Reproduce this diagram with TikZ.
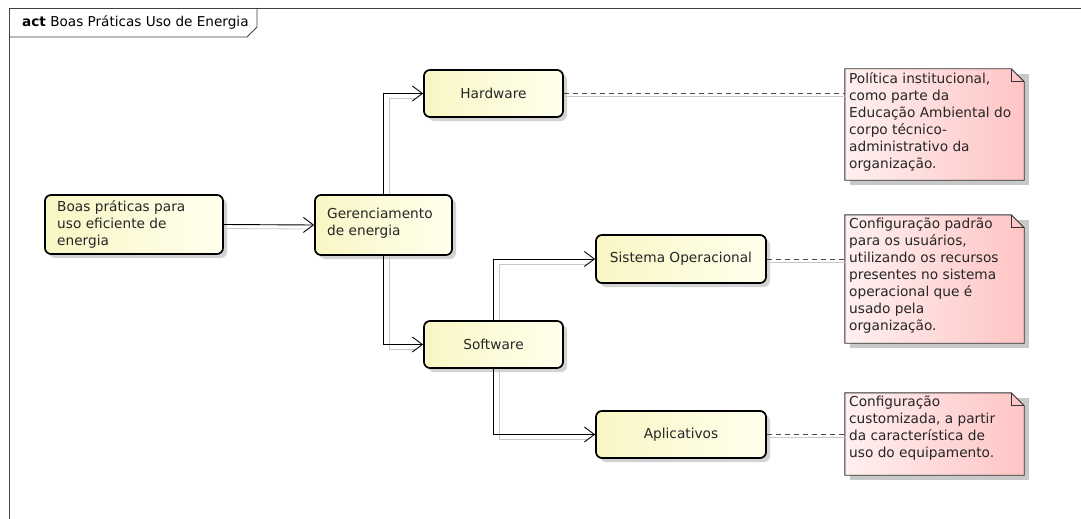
\documentclass[tikz,border=0pt]{standalone}
\usepackage{fontspec}
\setmainfont{DejaVu Sans}
\usetikzlibrary{arrows.meta,shadows,calc}
\definecolor{boxL}{RGB}{249,246,196}
\definecolor{boxR}{RGB}{255,255,238}
\definecolor{noteL}{RGB}{255,240,240}
\definecolor{noteR}{RGB}{255,196,196}
\definecolor{shd}{RGB}{200,200,200}
\tikzset{
  act/.style={rectangle, rounded corners=6pt, draw=black, line width=1.7pt,
    left color=boxL, right color=boxR, font=\fontsize{13.7}{17}\selectfont,
    text=black!85,
    drop shadow={shadow xshift=4pt, shadow yshift=-4pt, fill=shd, opacity=0.8},
    inner sep=0pt},
  notebox/.style={rectangle, inner sep=0pt},
  notetext/.style={anchor=north west, align=left, inner sep=0pt,
    font=\fontsize{13.7}{17}\selectfont, text=black!85},
  flow/.style={draw=black, line width=0.9pt, -{Straight Barb[length=10pt,width=15pt,line width=0.9pt]}},
  flowshadow/.style={draw=shd, line width=0.8pt},
  link/.style={draw=black!70, line width=0.7pt, dash pattern=on 5pt off 4pt},
  frameline/.style={draw=black!75, line width=0.8pt}
}
\begin{document}
\begin{tikzpicture}[x=1pt,y=-1pt]
\useasboundingbox (0,0) rectangle (1081,519);
% frame
\draw[frameline] (1081,8) -- (9,8) -- (9,519);
\draw[frameline] (9,37) -- (247,37) -- (257,27) -- (257,8);
\node[anchor=base west, inner sep=0pt, font=\fontsize{13.6}{15}\selectfont] (title) at (22,27)
  {\textbf{act} Boas Práticas Uso de Energia};

% nodes
\node[act, minimum width=178pt, minimum height=59pt] (boas) at (134,224.5) {};
\node[anchor=north west, align=left, inner sep=0pt, text=black!85, font=\fontsize{13.7}{17}\selectfont] (boast) at (57,200)
  {Boas práticas para\\uso eficiente de\\energia};
\node[act, minimum width=137pt, minimum height=60pt] (ger) at (383.5,225) {};
\node[anchor=north west, align=left, inner sep=0pt, text=black!85, font=\fontsize{13.7}{17}\selectfont] (gert) at (327,208)
  {Gerenciamento\\de energia};
\node[act, minimum width=139pt, minimum height=47pt] (hw) at (493.5,93.5) {Hardware};
\node[act, minimum width=139pt, minimum height=47pt] (sw) at (493.5,344.5) {Software};
\node[act, minimum width=170pt, minimum height=48pt] (so) at (681,259) {Sistema Operacional};
\node[act, minimum width=170pt, minimum height=47pt] (ap) at (681,434.5) {Aplicativos};

% notes
\node[notebox, minimum width=179pt, minimum height=111pt] (n1) at (934.5,124.5) {};
\node[notebox, minimum width=179pt, minimum height=128pt] (n2) at (934.5,279) {};
\node[notebox, minimum width=179pt, minimum height=82pt] (n3) at (934.5,434) {};
\foreach \n in {n1,n2,n3}{
  \fill[shd] ($(\n.north west)+(5,5)$) rectangle ($(\n.south east)+(5,5)$);
  \path[draw=black!80, line width=0.9pt, left color=noteL, right color=noteR]
    (\n.north west) -- ($(\n.north east)+(-13,0)$) -- ($(\n.north east)+(0,13)$)
    -- (\n.south east) -- (\n.south west) -- cycle;
  \draw[black!80, line width=0.9pt] ($(\n.north east)+(-13,0)$) -- ($(\n.north east)+(-13,13)$) -- ($(\n.north east)+(0,13)$);
}
\node[notetext] (n1t) at (849,72) {Política institucional,\\como parte da\\Educação Ambiental do\\corpo técnico-\\administrativo da\\organização.};
\node[notetext] (n2t) at (849,218) {Configuração padrão\\para os usuários,\\utilizando os recursos\\presentes no sistema\\operacional que é\\usado pela\\organização.};
\node[notetext] (n3t) at (849,396) {Configuração\\customizada, a partir\\da característica de\\uso do equipamento.};

% connector shadows
\draw[flowshadow] ($(boas.east)+(0,4)$) -- ($(ger.west)+(-8,4)$);
\draw[flowshadow] ($(ger.north)+(6,0)$) |- ($(hw.west)+(-8,5)$);
\draw[flowshadow] ($(ger.south)+(6,0)$) |- ($(sw.west)+(-8,5)$);
\draw[flowshadow] ($(sw.north)+(6,0)$) |- ($(so.west)+(-8,5)$);
\draw[flowshadow] ($(sw.south)+(6,0)$) |- ($(ap.west)+(-8,5)$);
\draw[flowshadow] ($(hw.east)+(0,3)$) -- ($(hw.east -| n1.west)+(0,3)$);
\draw[flowshadow] ($(so.east)+(0,3)$) -- ($(so.east -| n2.west)+(0,3)$);
\draw[flowshadow] ($(ap.east)+(0,3)$) -- ($(ap.east -| n3.west)+(0,3)$);

% connectors
\draw[flow] (boas.east) -- (ger.west);
\draw[flow] (ger.north) |- (hw.west);
\draw[flow] (ger.south) |- (sw.west);
\draw[flow] (sw.north) |- (so.west);
\draw[flow] (sw.south) |- (ap.west);
\draw[link] (hw.east) -- (hw.east -| n1.west);
\draw[link] (so.east) -- (so.east -| n2.west);
\draw[link] (ap.east) -- (ap.east -| n3.west);
\end{tikzpicture}
\end{document}
